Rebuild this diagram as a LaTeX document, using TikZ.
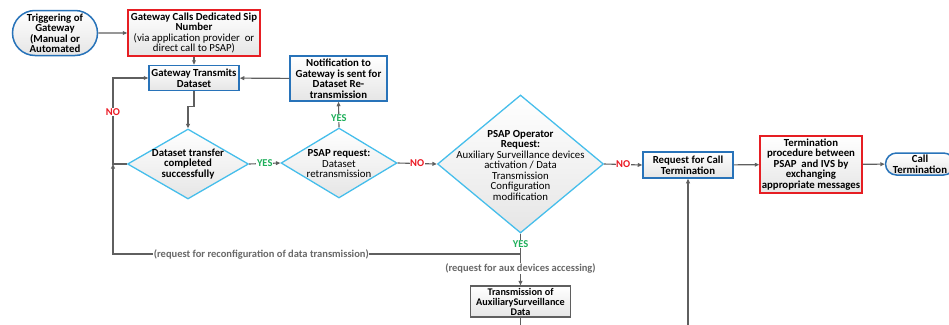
\documentclass[tikz,border=0pt]{standalone}
\usepackage{fontspec}
\setmainfont{Carlito}
\usetikzlibrary{shapes.geometric,shapes.misc,arrows.meta}
\definecolor{bbl}{RGB}{40,115,185}
\definecolor{rred}{RGB}{230,30,35}
\definecolor{cyn}{RGB}{70,190,235}
\definecolor{lin}{RGB}{95,95,95}
\definecolor{grn}{RGB}{30,175,90}
\definecolor{nored}{RGB}{235,25,35}
\definecolor{gtxt}{RGB}{105,105,105}
\begin{document}
\begin{tikzpicture}[x=1pt,y=-1pt,
  font=\fontsize{10.8}{10.5}\selectfont\bfseries,
  base/.style={top color=white,bottom color=gray!20,align=center,inner sep=0.5pt,line width=1.5pt},
  bluebox/.style={base,draw=bbl},
  redbox/.style={base,draw=rred},
  graybox/.style={base,draw=lin,line width=1.2pt},
  termbox/.style={base,draw=bbl,rounded rectangle},
  dia/.style={diamond,top color=white,bottom color=gray!20,draw=cyn,line width=1.3pt,inner sep=0pt},
  txt/.style={align=center,inner sep=0pt},
  lin/.style={draw=lin,line width=1.1pt},
  conn/.style={lin,-{Triangle[length=4.5pt,width=3.8pt]}},
  lab/.style={fill=white,inner sep=0.6pt,font=\fontsize{10.5}{10}\selectfont\bfseries},
  glab/.style={fill=white,inner sep=0.6pt,text=gtxt,font=\fontsize{10.5}{10}\selectfont\bfseries}
]
\useasboundingbox (0,0) rectangle (949,324);

\node[termbox,minimum width=86pt,minimum height=45pt] (trig) at (55,33) {Triggering of\\Gateway\\(Manual or\\Automated};
\node[redbox,minimum width=132pt,minimum height=46pt] (gcall) at (194,33) {Gateway Calls Dedicated Sip\\Number\\{\mdseries (via application provider\ \ or}\\{\mdseries direct call to PSAP)}};
\node[bluebox,minimum width=90pt,minimum height=25pt] (gtx) at (194,78) {Gateway Transmits\\Dataset};
\node[bluebox,minimum width=97pt,minimum height=45pt] (notif) at (338.5,78.5) {Notification to\\Gateway is sent for\\Dataset Re-\\transmission};

\node[dia,minimum width=121pt,minimum height=70pt] (d1) at (188,164) {};
\node[txt] at (d1) {Dataset transfer\\completed\\successfully};
\node[dia,minimum width=116pt,minimum height=70pt] (d2) at (339,163) {};
\node[txt] at (339,163.5) {PSAP request:\\{\mdseries Dataset}\\{\mdseries retransmission}};
\node[dia,minimum width=166pt,minimum height=138pt] (d3) at (520.5,164) {};
\node[txt] at (520.5,165) {PSAP Operator\\Request:\\{\mdseries Auxiliary Surveillance devices}\\{\mdseries activation / Data}\\{\mdseries Transmission}\\{\mdseries Configuration}\\{\mdseries modification}};

\node[bluebox,minimum width=90pt,minimum height=26pt] (rct) at (688,165) {Request for Call\\Termination};
\node[redbox,minimum width=102pt,minimum height=57pt] (tproc) at (811,164.5) {Termination\\procedure between\\PSAP\ \ and IVS by\\exchanging\\appropriate messages};
\node[termbox,minimum width=70pt,minimum height=22pt] (cterm) at (920,164) {Call\\Termination};
\node[graybox,minimum width=100pt,minimum height=31pt,font=\fontsize{10.2}{10}\selectfont\bfseries] (aux) at (520.5,301.5) {Transmission of\\AuxiliarySurveillance\\Data};

\coordinate (lx) at (113,164);
\coordinate (j) at (520.5,254);
\coordinate (jl) at (113,254);
\coordinate (aend) at (520.5,330);
\coordinate (rin) at (688,330);

\draw[conn] (trig) -- (gcall);
\draw[conn] (gcall) -- (gtx);
\draw[conn] (notif) -- (gtx);
\draw[conn] (gtx.south) -- ++(0,15) -| (d1.north);
\draw[conn] (d1.east) -- node[lab,text=grn]{YES} (d2.west);
\draw[conn] (d2.north) -- node[lab,text=grn,pos=0.35]{YES} (notif.south);
\draw[conn] (d2.east) -- node[lab,text=nored]{NO} (d3.west);
\draw[conn] (d3.east) -- node[lab,text=nored]{NO} (rct.west);
\draw[conn] (rct) -- (tproc);
\draw[conn] (tproc) -- (cterm);
\draw[conn] (d1.west) -- (lx) |- (gtx.west);
\node[lab,text=nored] (nolab) at (113,112) {NO};
\draw[conn] (j) -- node[glab,pos=0.636]{(request for reconfiguration of data transmission)} (jl) -- (lx);
\draw[lin] (d3.south) -- node[lab,text=grn]{YES} (j);
\draw[conn] (j) -- node[glab,pos=0.45]{(request for aux devices accessing)} (aux.north);
\draw[lin] (aux.south) -- (aend);
\draw[conn] (rin) -- (rct.south);
\end{tikzpicture}
\end{document}
